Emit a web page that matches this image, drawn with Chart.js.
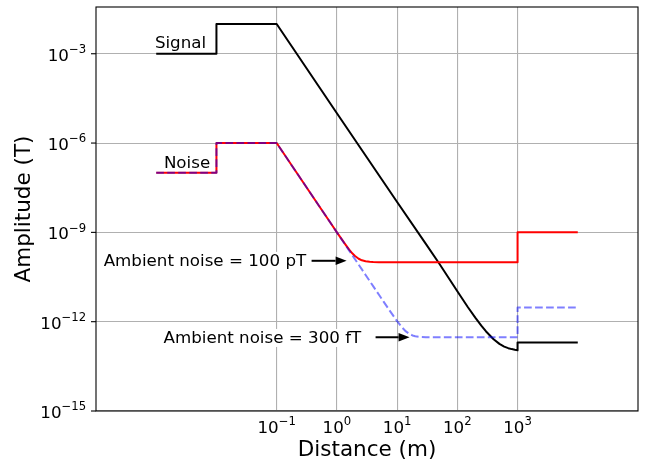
<!DOCTYPE html>
<html><head><meta charset="utf-8">
<script src="https://cdn.jsdelivr.net/npm/chart.js@4/dist/chart.umd.min.js"></script>
<style>html,body{margin:0;padding:0;background:#fff;} canvas{display:block;}</style>
</head><body>
<canvas id="c" width="645" height="461"></canvas>
<script>
// ---- tick labels ----
const xTickValues = [0.1, 1, 10, 100, 1000];
const xTickExponents = ['\u22121', '0', '1', '2', '3'];
const yTickValues = [1e-15, 1e-12, 1e-9, 1e-6, 1e-3];
const yTickExponents = ['\u221215', '\u221212', '\u22129', '\u22126', '\u22123'];

// ---- signal (black) ----
const signalDistance = [1e-3, 1e-2, 1e-2, 0.1, 1, 10, 30, 50, 100, 150, 200, 250, 300, 400, 500, 600, 700, 800, 900, 1000, 1000, 1e4];
const signalAmplitude = [1e-3, 1e-3, 1e-2, 1e-2, 1e-5, 1.05e-8, 4.1e-10, 9e-11, 1.05e-11, 3.06e-12, 1.35e-12, 7.4e-13, 4.7e-13, 2.56e-13, 1.8e-13, 1.46e-13, 1.29e-13, 1.2e-13, 1.14e-13, 1.1e-13, 2e-13, 2e-13];

// ---- noise (shared distances) ----
const noiseDistance = [1e-3, 1e-2, 1e-2, 0.1, 0.5, 0.7, 0.85, 1, 1.2, 1.4, 1.6, 1.8, 2, 2.3, 2.6, 3, 3.5, 4, 5, 6, 8, 10, 12, 14, 16, 18, 20, 25, 30, 40, 60, 1000, 1000, 1e4];
const noise100pT = [1e-7, 1e-7, 1e-6, 1e-6, 8.0e-9, 2.92e-9, 1.63e-9, 1.0e-9, 5.9e-10, 3.8e-10, 2.64e-10, 1.98e-10, 1.6e-10, 1.3e-10, 1.15e-10, 1.07e-10, 1.03e-10, 1.01e-10, 1.0e-10, 1e-10, 1e-10, 1e-10, 1e-10, 1e-10, 1e-10, 1e-10, 1e-10, 1e-10, 1e-10, 1e-10, 1e-10, 1e-10, 1e-9, 1e-9];
const noise300fT = [1e-7, 1e-7, 1e-6, 1e-6, 8.0e-9, 2.92e-9, 1.63e-9, 1.0e-9, 5.8e-10, 3.64e-10, 2.44e-10, 1.72e-10, 1.25e-10, 8.2e-11, 5.7e-11, 3.7e-11, 2.33e-11, 1.56e-11, 8.0e-12, 4.64e-12, 1.97e-12, 1.04e-12, 6.5e-13, 4.7e-13, 3.9e-13, 3.45e-13, 3.25e-13, 3.07e-13, 3.02e-13, 3.0e-13, 3.0e-13, 3.0e-13, 3.0e-12, 3.0e-12];

// ---- annotations (data coordinates) ----
const notes = [
  {text: 'Signal', x: 9.5e-4, y: 1.55e-3},
  {text: 'Noise', x: 1.34e-3, y: 1.46e-7},
  {text: 'Ambient noise = 100 pT', x: 1.34e-4, y: 7.5e-11, box: true, from: [0.38, 1.11e-10], to: [1.45, 1.11e-10]},
  {text: 'Ambient noise = 300 fT', x: 1.32e-3, y: 1.93e-13, box: true, from: [4.39, 3.0e-13], to: [16.1, 3.0e-13]}
];

const zip = (xs, ys) => xs.map((v, i) => ({x: v, y: ys[i]}));
const FONT = '"DejaVu Sans", sans-serif';
const BASE = 16.7, SUP = 11.7;

function drawPow(ctx, base, exp, x, y, align) {
  ctx.font = BASE + 'px ' + FONT;
  const wb = ctx.measureText(base).width;
  ctx.font = SUP + 'px ' + FONT;
  const we = ctx.measureText(exp).width;
  const total = wb + we;
  const left = align === 'right' ? x - total : (align === 'center' ? x - total / 2 : x);
  ctx.textAlign = 'left';
  ctx.textBaseline = 'alphabetic';
  ctx.font = BASE + 'px ' + FONT;
  ctx.fillText(base, left, y);
  ctx.font = SUP + 'px ' + FONT;
  ctx.fillText(exp, left + wb, y - 7.6);
}

const decor = {
  id: 'decor',
  afterDraw(chart) {
    const {ctx, chartArea: a, scales: {x, y}} = chart;
    ctx.save();
    ctx.fillStyle = '#000';
    // annotations
    notes.forEach(n => {
      const px = x.getPixelForValue(n.x), py = y.getPixelForValue(n.y);
      ctx.font = BASE + 'px ' + FONT;
      ctx.textAlign = 'left'; ctx.textBaseline = 'alphabetic';
      if (n.box) {
        const w = ctx.measureText(n.text).width;
        ctx.fillStyle = '#fff';
        ctx.fillRect(px - 1, py - 14, w + 2, 18);
        ctx.fillStyle = '#000';
      }
      ctx.fillText(n.text, px, py);
      if (n.from) {
        const x1 = x.getPixelForValue(n.from[0]), y1 = y.getPixelForValue(n.from[1]);
        const x2 = x.getPixelForValue(n.to[0]), y2 = y.getPixelForValue(n.to[1]);
        const ang = Math.atan2(y2 - y1, x2 - x1);
        const hl = 11, hw = 4.2;
        const bx = x2 - hl * Math.cos(ang), by = y2 - hl * Math.sin(ang);
        ctx.strokeStyle = '#000'; ctx.lineWidth = 2;
        ctx.beginPath(); ctx.moveTo(x1, y1); ctx.lineTo(bx, by); ctx.stroke();
        ctx.beginPath();
        ctx.moveTo(x2, y2);
        ctx.lineTo(bx + hw * Math.sin(ang), by - hw * Math.cos(ang));
        ctx.lineTo(bx - hw * Math.sin(ang), by + hw * Math.cos(ang));
        ctx.closePath(); ctx.fill();
      }
    });
    // frame
    ctx.strokeStyle = '#000'; ctx.lineWidth = 1.1;
    ctx.strokeRect(a.left, a.top, a.right - a.left, a.bottom - a.top);
    // y ticks + labels
    yTickValues.forEach((v, i) => {
      const py = y.getPixelForValue(v);
      ctx.beginPath(); ctx.moveTo(a.left - 5, py); ctx.lineTo(a.left, py); ctx.stroke();
      drawPow(ctx, '10', yTickExponents[i], a.left - 9.8, py + 7, 'right');
    });
    // x labels
    xTickValues.forEach((v, i) => {
      const px = x.getPixelForValue(v);
      drawPow(ctx, '10', xTickExponents[i], px, a.bottom + 21.6, 'center');
    });
    // axis titles
    ctx.font = '21.5px ' + FONT;
    ctx.textAlign = 'center'; ctx.textBaseline = 'alphabetic';
    ctx.fillText('Distance (m)', (a.left + a.right) / 2, 455.5);
    ctx.save();
    ctx.translate(30, (a.top + a.bottom) / 2);
    ctx.rotate(-Math.PI / 2);
    ctx.fillText('Amplitude (T)', 0, 0);
    ctx.restore();
    ctx.restore();
  }
};

new Chart(document.getElementById('c'), {
  type: 'line',
  data: {
    datasets: [
      {label: 'Signal', data: zip(signalDistance, signalAmplitude), borderColor: '#000000', borderWidth: 2, order: 3},
      {label: 'Noise, 100 pT ambient', data: zip(noiseDistance, noise100pT), borderColor: '#ff0000', borderWidth: 2, order: 2},
      {label: 'Noise, 300 fT ambient', data: zip(noiseDistance, noise300fT), borderColor: 'rgba(0,0,255,0.5)', borderWidth: 2, borderDash: [7.7, 3.3], order: 1}
    ]
  },
  options: {
    responsive: false, animation: false, devicePixelRatio: 1, events: [],
    layout: {padding: {top: 7, right: 7, left: 0, bottom: 0}, autoPadding: false},
    elements: {
      point: {radius: 0, hoverRadius: 0},
      line: {tension: 0, fill: false, borderCapStyle: 'butt', borderJoinStyle: 'round'}
    },
    plugins: {legend: {display: false}, tooltip: {enabled: false}},
    scales: {
      x: {
        type: 'logarithmic', position: 'bottom', min: 1e-4, max: 1e5, bounds: 'data',
        afterBuildTicks: s => { s.ticks = xTickValues.map(v => ({value: v})); },
        afterFit: s => { s.height = 50; },
        ticks: {display: false},
        grid: {color: '#b0b0b0', lineWidth: 1.1, drawTicks: false},
        border: {display: false}
      },
      y: {
        type: 'logarithmic', position: 'left', min: 1e-15, max: Math.pow(10, -1.43), bounds: 'data',
        afterBuildTicks: s => { s.ticks = yTickValues.map(v => ({value: v})); },
        afterFit: s => { s.width = 96; },
        ticks: {display: false},
        grid: {color: '#b0b0b0', lineWidth: 1.1, drawTicks: false},
        border: {display: false}
      }
    }
  },
  plugins: [decor]
});
</script>
</body></html>
